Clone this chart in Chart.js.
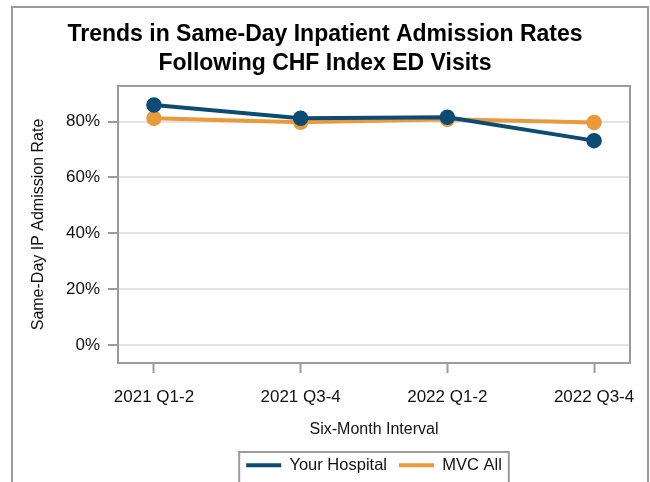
<!DOCTYPE html>
<html>
<head>
<meta charset="utf-8">
<script src="https://cdn.jsdelivr.net/npm/chart.js@4/dist/chart.umd.min.js"></script>
<style>
  html, body { margin: 0; padding: 0; background: #fff; }
  canvas { display: block; }
</style>
</head>
<body>
<canvas id="trendChart" width="650" height="482"></canvas>
<script>
'use strict';

// Data
const categories = ['2021 Q1-2', '2021 Q3-4', '2022 Q1-2', '2022 Q3-4'];
const yourHospital = [86.0, 81.2, 81.6, 73.2];
const mvcAll = [81.2, 79.8, 80.9, 79.7];
const yTicks = [0, 20, 40, 60, 80];
const xTicks = [0, 1, 2, 3];

const blue = '#0b4b74';
const orange = '#eb9a3b';
const frameGray = '#9b9b9b';
const fontFamily = "'Liberation Sans', Arial, sans-serif";

function toPoints(values) {
  return values.map((v, i) => ({ x: i, y: v }));
}

// Frame, plot border and legend box
const framePlugin = {
  id: 'frames',
  beforeDraw(chart) {
    const ctx = chart.ctx;
    ctx.save();
    ctx.fillStyle = '#fff';
    ctx.fillRect(0, 0, chart.width, chart.height);
    ctx.restore();
  },
  afterUpdate(chart) {
    // center the legend under the plot instead of the canvas
    const legend = chart.legend;
    const area = chart.chartArea;
    const dx = (area.left + area.right) / 2 - (legend.left + legend.right) / 2;
    legend.left += dx;
    legend.right += dx;
    for (let hb of legend.legendHitBoxes) {
      hb.left += dx;
    }
  },
  afterDraw(chart) {
    const ctx = chart.ctx;
    const area = chart.chartArea;
    ctx.save();
    ctx.strokeStyle = frameGray;
    ctx.lineWidth = 2;
    ctx.strokeRect(12, 7, 636, 500);
    ctx.strokeRect(area.left, area.top, area.right - area.left, area.bottom - area.top);
    const hbs = chart.legend.legendHitBoxes;
    if (hbs.length) {
      const first = hbs[0];
      const last = hbs[hbs.length - 1];
      const left = first.left - 7;
      const right = last.left + last.width + 7;
      const top = first.top - 5;
      ctx.strokeRect(left, top, right - left, 60);
    }
    ctx.restore();
  }
};

const ctx = document.getElementById('trendChart').getContext('2d');

const lineChart = new Chart(ctx, {
  type: 'line',
  data: {
    datasets: [{
      label: 'Your Hospital',
      data: toPoints(yourHospital),
      borderColor: blue,
      backgroundColor: blue,
      borderWidth: 4,
      pointRadius: 7,
      pointBorderWidth: 1.5,
      pointBackgroundColor: blue,
      pointBorderColor: blue
    }, {
      label: 'MVC All',
      data: toPoints(mvcAll),
      borderColor: orange,
      backgroundColor: orange,
      borderWidth: 4,
      pointRadius: 7,
      pointBorderWidth: 1.5,
      pointBackgroundColor: orange,
      pointBorderColor: orange
    }]
  },
  options: {
    responsive: false,
    animation: false,
    devicePixelRatio: 1,
    layout: {
      padding: { left: 20, right: 20, top: 0, bottom: -1.5 }
    },
    plugins: {
      title: {
        display: true,
        text: ['Trends in Same-Day Inpatient Admission Rates', 'Following CHF Index ED Visits'],
        color: '#000',
        font: { family: fontFamily, size: 23, weight: 'bold', lineHeight: 1.26 },
        padding: { top: 20, bottom: 8 }
      },
      legend: {
        position: 'bottom',
        labels: {
          color: '#111',
          font: { family: fontFamily, size: 16.5 },
          boxWidth: 35,
          boxHeight: 4,
          padding: 12,
          generateLabels(chart) {
            const items = Chart.defaults.plugins.legend.labels.generateLabels(chart);
            items.forEach(item => { item.lineWidth = 0; });
            return items;
          }
        }
      },
      tooltip: { enabled: false }
    },
    scales: {
      x: {
        type: 'linear',
        min: -0.245,
        max: 3.245,
        afterBuildTicks(scale) {
          scale.ticks = xTicks.map(v => ({ value: v }));
        },
        afterFit(scale) {
          scale.height = 82;
        },
        border: { display: false },
        grid: {
          drawOnChartArea: false,
          drawTicks: true,
          tickLength: 10,
          tickColor: frameGray,
          tickWidth: 2
        },
        ticks: {
          color: '#111',
          font: { family: fontFamily, size: 17 },
          padding: 14,
          maxRotation: 0,
          autoSkip: false,
          callback: (value) => categories[value]
        },
        title: {
          display: true,
          text: 'Six-Month Interval',
          color: '#111',
          font: { family: fontFamily, size: 16 },
          padding: { top: 0, bottom: 6 }
        }
      },
      y: {
        min: -6.5,
        max: 92.8,
        afterBuildTicks(scale) {
          scale.ticks = yTicks.map(v => ({ value: v }));
        },
        afterFit(scale) {
          scale.width = 98;
        },
        border: { display: false },
        grid: {
          color: '#e3e3e3',
          lineWidth: 2,
          drawTicks: true,
          tickLength: 10,
          tickColor: frameGray,
          tickWidth: 2
        },
        ticks: {
          color: '#111',
          font: { family: fontFamily, size: 17 },
          padding: 8,
          callback: (value) => value + '%'
        },
        title: {
          display: true,
          text: 'Same-Day IP Admission Rate',
          color: '#111',
          font: { family: fontFamily, size: 16 },
          padding: { top: 9, bottom: 0 }
        }
      }
    }
  },
  plugins: [framePlugin]
});
</script>
</body>
</html>
